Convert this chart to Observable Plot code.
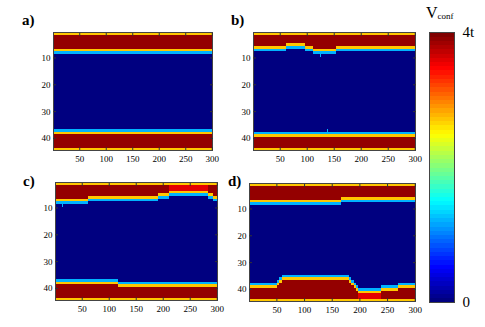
<!DOCTYPE html>
<html><head><meta charset="utf-8">
<script src="https://cdn.jsdelivr.net/npm/d3@7"></script>
<script src="https://cdn.jsdelivr.net/npm/@observablehq/plot@0.6"></script>
<style>
body{margin:0;background:#fff;}
#root{position:relative;width:485px;height:327px;overflow:hidden;font-family:"Liberation Serif","Times New Roman",serif;}
#root svg{position:absolute;background:transparent;}
</style></head><body><div id="root"></div>
<script>
// ---- data ----
const nRows = 44, nCols = 300;
const xTicks = [50, 100, 150, 200, 250, 300];
const yTicks = [10, 20, 30, 40];
const panelLabels = ["a)", "b)", "c)", "d)"];
const colorbarTicks = [0, 4];
const colorbarTickLabels = ["0", "4t"];
// value levels as fraction of 4t
const levelBody = 0, levelCyan = 0.3, levelEdge = 0.68, levelPeak = 0.98, levelThinPeak = 0.9;
// walls: [first column, row of the light-blue (inner) edge of the wall]
const topA = [[1, 8]];
const botA = [[1, 37]];
const topB = [[1, 7], [61, 6], [97, 7], [111, 8], [153, 7]];
const botB = [[1, 38]];
const topC = [[1, 8], [61, 7], [191, 6], [211, 5], [284, 6], [293, 7]];
const botC = [[1, 37], [116, 38]];
const topD = [[1, 8], [166, 7]];
const botD = [[1, 38], [51, 37], [55, 36], [59, 35], [181, 36], [185, 37], [189, 38], [193, 39], [197, 40], [238, 39], [269, 38]];
// single light-blue cells: [column, row]
const spikesA = [];
const spikesB = [[125, 9], [138, 37], [201, 37]];
const spikesC = [[13, 9], [174, 8]];
const spikesD = [[110, 9], [126, 9]];

// ---- helpers ----
function stepAt(steps, c) { let v = steps[0][1]; for (const [s, r] of steps) if (c >= s) v = r; return v; }
function buildGrid(top, bot, spikes) {
  const g = new Array(nRows * nCols);
  for (let c = 1; c <= nCols; c++) {
    const t = stepAt(top, c), b = stepAt(bot, c);
    const tPeak = (t - 3) >= 3 ? levelPeak : levelThinPeak;
    const bPeak = (42 - b) >= 3 ? levelPeak : levelThinPeak;
    for (let r = 1; r <= nRows; r++) {
      let v = levelBody;
      if (r === 1 || r === nRows) v = levelEdge;
      else if (r < t - 1) v = tPeak;
      else if (r === t - 1) v = levelEdge;
      else if (r === t) v = levelCyan;
      else if (r === b) v = levelCyan;
      else if (r === b + 1) v = levelEdge;
      else if (r > b + 1) v = bPeak;
      g[(r - 1) * nCols + (c - 1)] = v;
    }
  }
  for (const [c, r] of spikes) g[(r - 1) * nCols + (c - 1)] = levelCyan;
  return g;
}
function jet(t) {
  const cl = v => Math.max(0, Math.min(1, v));
  const r = cl(Math.min(4 * t - 1.5, -4 * t + 4.5));
  const g = cl(Math.min(4 * t - 0.5, -4 * t + 3.5));
  const b = cl(Math.min(4 * t + 0.5, -4 * t + 2.5));
  return `rgb(${Math.round(r * 255)},${Math.round(g * 255)},${Math.round(b * 255)})`;
}
const root = document.getElementById("root");
const font = '"Liberation Serif","Times New Roman",serif';

function panel(grid, rect) {
  const [x0, y0, x1, y1] = rect;
  const mL = 32, mR = 10, mT = 6, mB = 18;
  const svg = Plot.plot({
    width: (x1 - x0) + mL + mR, height: (y1 - y0) + mT + mB,
    marginLeft: mL, marginRight: mR, marginTop: mT, marginBottom: mB,
    x: {domain: [0.5, nCols + 0.5]},
    y: {domain: [0.5, nRows + 0.5], reverse: true},
    color: {type: "linear", domain: [0, 1], interpolate: jet},
    style: {fontFamily: font, fontSize: "9px", color: "#000", background: "transparent"},
    marks: [
      Plot.raster(grid, {width: nCols, height: nRows, x1: 0.5, x2: nCols + 0.5, y1: 0.5, y2: nRows + 0.5, imageRendering: "pixelated"}),
      Plot.frame({stroke: "#444"}),
      Plot.axisX(xTicks, {anchor: "bottom", tickSize: -3, tickPadding: 8, stroke: "#333"}),
      Plot.axisX(xTicks, {anchor: "top", tickSize: -3, tickFormat: () => "", stroke: "#333"}),
      Plot.axisY(yTicks, {anchor: "left", tickSize: -3, tickPadding: 6, stroke: "#333"}),
      Plot.axisY(yTicks, {anchor: "right", tickSize: -3, tickFormat: () => "", stroke: "#333"})
    ]
  });
  svg.style.left = (x0 - mL) + "px";
  svg.style.top = (y0 - mT) + "px";
  root.appendChild(svg);
}

panel(buildGrid(topA, botA, spikesA), [53, 32, 212, 150]);
panel(buildGrid(topB, botB, spikesB), [253, 32, 415, 150]);
panel(buildGrid(topC, botC, spikesC), [55, 182, 217, 300]);
panel(buildGrid(topD, botD, spikesD), [249, 183, 415, 301]);

// colorbar (64-level jet)
const cbLevels = d3.range(64).map(i => 1 - i / 63);
{
  const [x0, y0, x1, y1] = [429, 32, 454, 302];
  const mL = 2, mR = 30, mT = 10, mB = 12;
  const svg = Plot.plot({
    width: (x1 - x0) + mL + mR, height: (y1 - y0) + mT + mB,
    marginLeft: mL, marginRight: mR, marginTop: mT, marginBottom: mB,
    x: {domain: [0, 1], axis: null},
    y: {domain: [0, 4]},
    color: {type: "linear", domain: [0, 1], interpolate: jet},
    style: {fontFamily: font, fontSize: "15px", color: "#000", background: "transparent"},
    marks: [
      Plot.raster(cbLevels, {width: 1, height: 64, x1: 0, x2: 1, y1: 4, y2: 0, imageRendering: "pixelated"}),
      Plot.frame({stroke: "#444"}),
      Plot.axisY(colorbarTicks, {anchor: "right", tickSize: 0, tickPadding: 8, tickFormat: d => colorbarTickLabels[colorbarTicks.indexOf(d)]})
    ]
  });
  svg.style.left = (x0 - mL) + "px";
  svg.style.top = (y0 - mT) + "px";
  root.appendChild(svg);
}

// text annotations
const ov = d3.create("svg").attr("width", 485).attr("height", 327).style("left", "0px").style("top", "0px")
  .style("pointer-events", "none").attr("font-family", font);
const labelPos = [[22, 25], [231, 25], [23, 186], [228, 186]];
panelLabels.forEach((t, i) => ov.append("text").attr("x", labelPos[i][0]).attr("y", labelPos[i][1])
  .attr("font-size", 15).attr("font-weight", "bold").text(t));
const vt = ov.append("text").attr("x", 426).attr("y", 18).attr("font-size", 16);
vt.append("tspan").text("V");
vt.append("tspan").attr("font-size", 9).attr("dy", 1).text("conf");
root.appendChild(ov.node());
</script></body></html>
